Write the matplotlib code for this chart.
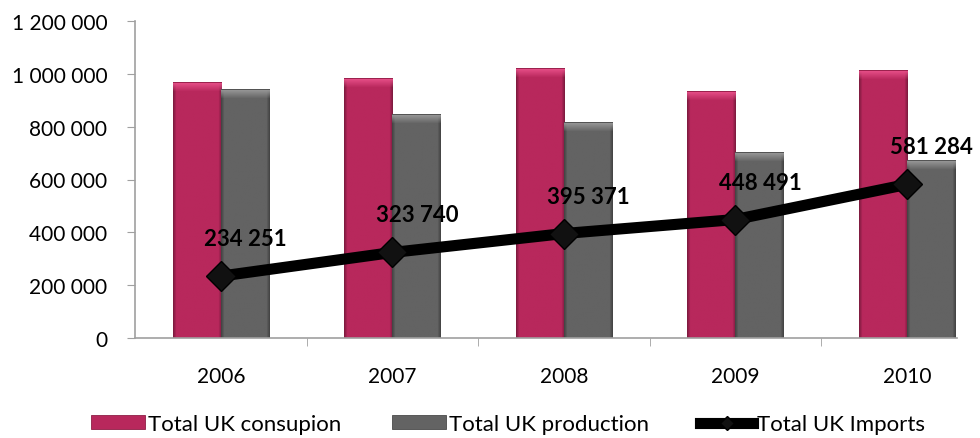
import matplotlib
matplotlib.use("Agg")
import matplotlib.pyplot as plt
import numpy as np
from matplotlib.colors import to_rgb
from matplotlib.ticker import FuncFormatter, FixedLocator

# UK figures by year
years = ["2006", "2007", "2008", "2009", "2010"]
consumption = [966000, 981000, 1019000, 932000, 1011000]
production = [940000, 845000, 815000, 702000, 672000]
imports = [234251, 323740, 395371, 448491, 581284]

plt.rcParams['font.family'] = ['Lato', 'DejaVu Sans']


def bevel(ax, bars, base, top, px_per_unit):
    """Paint a soft bevel (light top cap, darker sides) over each bar."""
    base = np.array(to_rgb(base))
    top = np.array(to_rgb(top))
    for r in bars:
        x0, y0 = r.get_x(), r.get_y()
        bw, bh = r.get_width(), r.get_height()
        rows = max(int(bh * px_per_unit), 2)
        cols = 48
        img = np.tile(base, (rows, cols, 1))
        # darker edges left/right
        side = np.ones(cols)
        side[:3] = [0.70, 0.80, 0.90]
        side[-3:] = [0.90, 0.80, 0.70]
        img = img * side[None, :, None]
        # light cap on top
        cap = 9
        for i in range(min(cap, rows)):
            t = 1 - i / cap
            img[i] = img[i] * (1 - t) + top * t
        img[0] = base * 0.85
        ax.imshow(img, extent=(x0, x0 + bw, y0, y0 + bh), aspect='auto',
                  origin='upper', interpolation='bilinear', zorder=2.1,
                  clip_path=r, clip_on=True)


fig = plt.figure(figsize=(9.8, 4.39), dpi=100)
ax = fig.add_axes([135 / 980, 100 / 439, 822 / 980, 317 / 439])

x = np.arange(len(years))
w = 0.28
b1 = ax.bar(x - w / 2, consumption, w, color='#B8285C', edgecolor='#8E1E45', linewidth=0.6,
            label='Total UK consupion', zorder=2)
b2 = ax.bar(x + w / 2, production, w, color='#636363', edgecolor='#4A4A4A', linewidth=0.6,
            label='Total UK production', zorder=2)
ln, = ax.plot(x, imports, color='black', linewidth=8, marker='D', markersize=15,
              markerfacecolor='#111111', markeredgecolor='black', label='Total UK Imports', zorder=3)

ax.set_ylim(0, 1200000)
ax.set_xlim(-0.5, -0.5 + 822 / 171.5)
ppu = 317 / 1200000
bevel(ax, b1, '#B8285C', '#E8508A', ppu)
bevel(ax, b2, '#636363', '#9A9A9A', ppu)

for xi, v in zip(x, imports):
    ax.annotate(f"{v:,}".replace(",", " "), (xi, v), xytext=(18, 27), textcoords='offset points',
                ha='center', va='center', fontsize=16, fontweight='bold', zorder=4)

ax.set_yticks(np.arange(0, 1200001, 200000))
ax.yaxis.set_major_formatter(FuncFormatter(lambda v, p: f"{int(v):,}".replace(",", " ")))
ax.set_xticks(x)
ax.set_xticklabels(years)
ax.xaxis.set_minor_locator(FixedLocator(x[:-1] + 0.5))
ax.tick_params(axis='x', which='major', length=0, pad=20, labelsize=15)
ax.tick_params(axis='x', which='minor', length=6, color='#A0A0A0', direction='out')
ax.tick_params(axis='y', length=6, color='#A0A0A0', labelsize=15, pad=14)

for s in ['top', 'right']:
    ax.spines[s].set_visible(False)
for s in ['left', 'bottom']:
    ax.spines[s].set_color('#A0A0A0')
    ax.spines[s].set_linewidth(1.2)

fig.legend([b1, b2, ln], ['Total UK consupion', 'Total UK production', 'Total UK Imports'],
           loc='center', bbox_to_anchor=(508 / 980, 14 / 439),
           ncol=3, frameon=False, fontsize=16, handlelength=2.4, handleheight=0.55,
           handletextpad=0.15, columnspacing=2.3, markerscale=0.5)

fig.savefig("out.png", dpi=100)
